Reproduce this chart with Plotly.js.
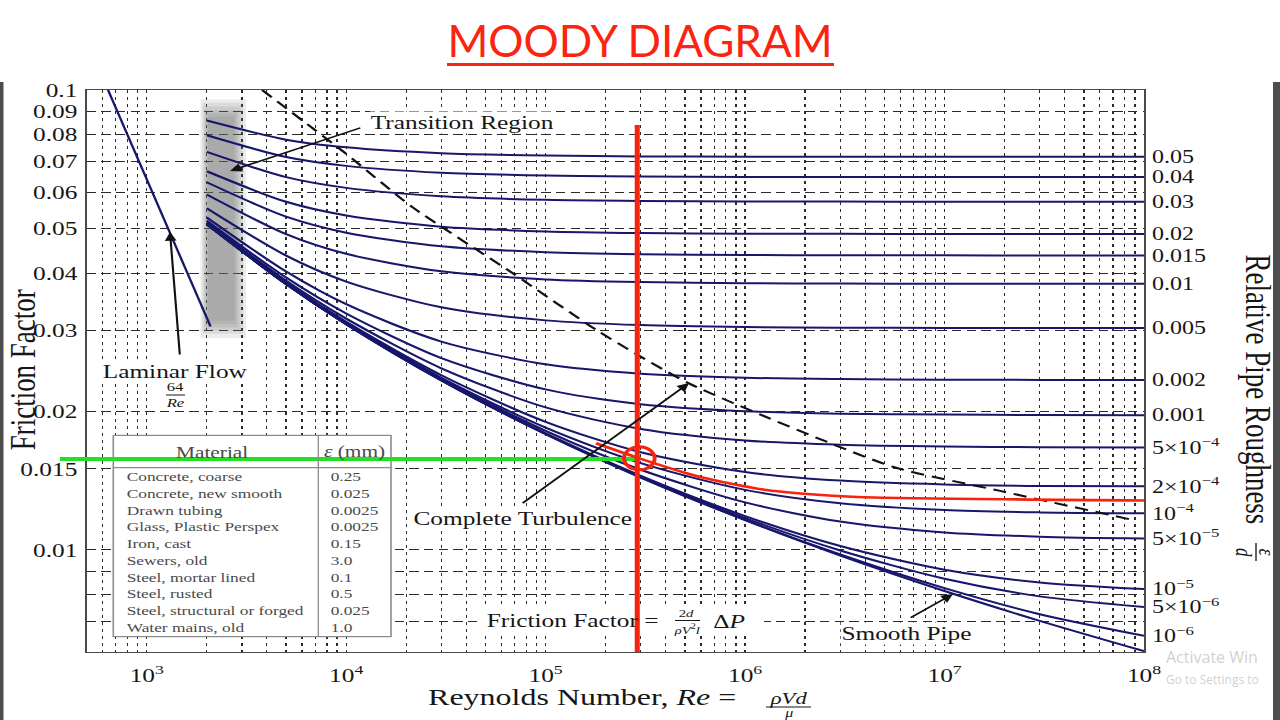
<!DOCTYPE html>
<html>
<head>
<meta charset="utf-8">
<script src="https://cdn.plot.ly/plotly-3.0.1.min.js"></script>
<style>
  html, body { margin: 0; padding: 0; background: #ffffff; width: 1280px; height: 720px; overflow: hidden; }
  #chart { position: absolute; left: 0; top: 0; width: 960px; height: 720px; transform: scaleX(1.3333333); transform-origin: 0 0; }
  #deco { position: absolute; left: 0; top: 0; width: 1280px; height: 720px; pointer-events: none; }
</style>
</head>
<body>
<div id="chart"></div>
<div id="deco"></div>
<script>
// ---------------- DATA ----------------
const reynolds = [2000, 5000, 1e4, 3e4, 1e5, 3e5, 1e6, 3e6, 1e7, 3e7, 1e8];

const roughnessLabels = ['0.05', '0.04', '0.03', '0.02', '0.015', '0.01', '0.005', '0.002', '0.001',
  '5×10<sup>−4</sup>', '2×10<sup>−4</sup>', '10<sup>−4</sup>', '5×10<sup>−5</sup>',
  '10<sup>−5</sup>', '5×10<sup>−6</sup>', '10<sup>−6</sup>'];

const f_0_05  = [0.08584, 0.07799, 0.07505, 0.07286, 0.07200, 0.07172, 0.07161, 0.07157, 0.07156, 0.07155, 0.07155];
const f_0_04  = [0.07972, 0.07152, 0.06840, 0.06608, 0.06515, 0.06485, 0.06473, 0.06470, 0.06468, 0.06467, 0.06467];
const f_0_03  = [0.07334, 0.06464, 0.06127, 0.05873, 0.05770, 0.05737, 0.05724, 0.05720, 0.05718, 0.05717, 0.05717];
const f_0_02  = [0.06658, 0.05714, 0.05336, 0.05045, 0.04926, 0.04887, 0.04872, 0.04867, 0.04865, 0.04864, 0.04864];
const f_0_015 = [0.06302, 0.05304, 0.04895, 0.04573, 0.04439, 0.04395, 0.04378, 0.04372, 0.04370, 0.04369, 0.04369];
const f_0_01  = [0.05928, 0.04860, 0.04404, 0.04034, 0.03875, 0.03823, 0.03801, 0.03795, 0.03792, 0.03791, 0.03791];
const f_0_005 = [0.05533, 0.04364, 0.03833, 0.03369, 0.03156, 0.03082, 0.03052, 0.03043, 0.03039, 0.03038, 0.03037];
const f_0_002 = [0.05283, 0.04030, 0.03422, 0.02838, 0.02533, 0.02417, 0.02368, 0.02352, 0.02345, 0.02343, 0.02342];
const f_0_001 = [0.05197, 0.03910, 0.03267, 0.02613, 0.02234, 0.02075, 0.02003, 0.01978, 0.01969, 0.01965, 0.01964];
const f_5e_4  = [0.05153, 0.03848, 0.03184, 0.02483, 0.02041, 0.01833, 0.01730, 0.01693, 0.01678, 0.01673, 0.01671];
const f_2e_4  = [0.05127, 0.03810, 0.03132, 0.02398, 0.01899, 0.01631, 0.01477, 0.01415, 0.01388, 0.01378, 0.01375];
const f_1e_4  = [0.05118, 0.03797, 0.03115, 0.02368, 0.01845, 0.01544, 0.01351, 0.01263, 0.01221, 0.01207, 0.01201];
const f_5e_5  = [0.05114, 0.03791, 0.03106, 0.02353, 0.01816, 0.01494, 0.01269, 0.01153, 0.01092, 0.01069, 0.01059];
const f_1e_5  = [0.05110, 0.03786, 0.03099, 0.02340, 0.01792, 0.01449, 0.01185, 0.01020, 0.009059, 0.008500, 0.008224];
const f_5e_6  = [0.05109, 0.03785, 0.03098, 0.02339, 0.01789, 0.01443, 0.01173, 0.009974, 0.008657, 0.007927, 0.007519];
const f_1e_6  = [0.05108, 0.03784, 0.03097, 0.02338, 0.01787, 0.01439, 0.01163, 0.009776, 0.008258, 0.007249, 0.006506];
const f_smooth = [0.05108, 0.03784, 0.03097, 0.02337, 0.01786, 0.01437, 0.01161, 0.009724, 0.008142, 0.007013, 0.006026];

const labelledCurves = [f_0_05, f_0_04, f_0_03, f_0_02, f_0_015, f_0_01, f_0_005, f_0_002, f_0_001,
  f_5e_4, f_2e_4, f_1e_4, f_5e_5, f_1e_5, f_5e_6, f_1e_6];

// laminar flow, f = 64/Re
const reLaminar = [625, 2090];
const fLaminar = [0.1024, 0.0306];

// complete-turbulence boundary (dashed)
const reBoundary = [3790, 9940, 21400, 68200, 185800, 526000, 5.5e6, 1.9e7, 8.8e7];
const fBoundary  = [0.1, 0.0728, 0.0557, 0.0400, 0.0298, 0.0230, 0.01517, 0.01344, 0.01162];

// red highlighted roughness curve
const reHighlight = [1.79e5, 2.95e5, 5.9e5, 1.28e6, 2.75e6, 4.46e6, 1e8];
const fHighlight  = [0.01706, 0.01582, 0.01443, 0.01350, 0.01312, 0.01300, 0.01281];

// worked example: Re read-off (red vertical), friction factor (green horizontal), intersection (circle)
const reVertical = [2.88e5, 2.88e5];
const fVertical  = [0.0839, 0.006];
const reHorizontal = [500, 2.88e5];
const fHorizontal  = [0.01577, 0.01577];
const rePoint = [2.95e5];
const fPoint  = [0.01582];

// transition region shading, outer -> inner bands (soft edge)
const shadeReLeft  = [1860, 1900, 1935, 1965, 1995, 2025];
const shadeReRight = [3150, 3050, 2960, 2880, 2810, 2750];
const shadeFTop    = [0.0955, 0.0938, 0.0921, 0.0905, 0.0890, 0.0876];
const shadeFBottom = [0.0289, 0.0295, 0.0300, 0.0305, 0.0310, 0.0315];

// material table
const materials = ['Concrete, coarse', 'Concrete, new smooth', 'Drawn tubing', 'Glass, Plastic Perspex',
  'Iron, cast', 'Sewers, old', 'Steel, mortar lined', 'Steel, rusted', 'Steel, structural or forged', 'Water mains, old'];
const roughnessMm = ['0.25', '0.025', '0.0025', '0.0025', '0.15', '3.0', '0.1', '0.5', '0.025', '1.0'];

// axes ticks / grid
const xMajorVals = [1e3, 1e4, 1e5, 1e6, 1e7, 1e8];
const xMajorText = ['10<sup>3</sup>', '10<sup>4</sup>', '10<sup>5</sup>', '10<sup>6</sup>', '10<sup>7</sup>', '10<sup>8</sup>'];
const xMinorVals = [600, 700, 800, 900, 2e3, 3e3, 4e3, 5e3, 6e3, 7e3, 8e3, 9e3,
  2e4, 3e4, 4e4, 5e4, 6e4, 7e4, 8e4, 9e4, 2e5, 3e5, 4e5, 5e5, 6e5, 7e5, 8e5, 9e5,
  2e6, 3e6, 4e6, 5e6, 6e6, 7e6, 8e6, 9e6, 2e7, 3e7, 4e7, 5e7, 6e7, 7e7, 8e7, 9e7];
const yMajorVals = [0.01, 0.015, 0.02, 0.03, 0.04, 0.05, 0.06, 0.07, 0.08, 0.09, 0.1];
const yMajorText = ['0.01', '0.015', '0.02', '0.03', '0.04', '0.05', '0.06', '0.07', '0.08', '0.09', '0.1'];
const yMinorVals = [0.007, 0.008, 0.009];

// ---------------- GEOMETRY / STYLE ----------------
const S = 4 / 3;            // the reference picture is horizontally stretched 4:3 -> 16:9
const W = 960, H = 720, ML = 65, MR = 102, MT = 90, MB = 68;
const PW = W - ML - MR, PH = H - MT - MB;
const X0 = Math.log10(500), X1 = 8, Y0 = Math.log10(0.006), Y1 = -1;
const px = sx => (sx / S - ML) / PW;     // screen x -> paper
const py = sy => (H - MB - sy) / PH;     // screen y -> paper
const reAt = sx => Math.pow(10, X0 + px(sx) * (X1 - X0));   // screen x -> axis value (for layout boxes)
const fAt = sy => Math.pow(10, Y0 + py(sy) * (Y1 - Y0));
const SERIF = 'Liberation Serif, Times New Roman, serif';
const NAVY = '#17176c';
const RED = '#f8230f';
const GREEN = '#22e022';
const TXT = '#161616';
const GRID = '#2a2a2a';

function boxTrace(x0, x1, y0, y1, fill, lineColor, lineWidth) {
  return {x: [x0, x1, x1, x0, x0], y: [y0, y0, y1, y1, y0], mode: 'lines', fill: 'toself',
    fillcolor: fill, line: {color: lineColor || 'rgba(0,0,0,0)', width: lineWidth || 0},
    hoverinfo: 'skip', showlegend: false};
}

const traces = [];
// table background & frame (hides the grid like the reference)
traces.push(boxTrace(reAt(113.3), reAt(391), fAt(435.3), fAt(636.7), '#ffffff', '#8c8c8c', 1.2));
// white band behind the in-plot friction factor formula
traces.push(boxTrace(reAt(481), reAt(764), fAt(608), fAt(633), '#ffffff'));
// transition shading
shadeReLeft.forEach((r, i) => {
  traces.push(boxTrace(r, shadeReRight[i], shadeFTop[i], shadeFBottom[i], 'rgba(105,105,105,0.13)'));
});
labelledCurves.concat([f_smooth]).forEach(curve => {
  traces.push({x: reynolds, y: curve, mode: 'lines',
    line: {color: NAVY, width: 2, shape: 'spline', smoothing: 0.8}, hoverinfo: 'skip', showlegend: false});
});
traces.push({x: reLaminar, y: fLaminar, mode: 'lines', line: {color: NAVY, width: 1.8}, showlegend: false});
traces.push({x: reBoundary, y: fBoundary, mode: 'lines',
  line: {color: '#111111', width: 2, dash: '10px,6px', shape: 'spline', smoothing: 0.6}, showlegend: false});
traces.push({x: reHorizontal, y: fHorizontal, mode: 'lines', line: {color: GREEN, width: 4}, showlegend: false});
traces.push({x: reHighlight, y: fHighlight, mode: 'lines',
  line: {color: RED, width: 2.6, shape: 'spline', smoothing: 0.7}, showlegend: false});
traces.push({x: reVertical, y: fVertical, mode: 'lines', line: {color: RED, width: 3.8}, showlegend: false});
traces.push({x: rePoint, y: fPoint, mode: 'markers',
  marker: {symbol: 'circle-open', size: 23, color: RED, line: {width: 3, color: RED}}, showlegend: false});
// right-hand axis carries the roughness labels at the curve ends
const curveEnds = labelledCurves.map(c => c[c.length - 1]);
traces.push({x: curveEnds.map(() => reynolds[reynolds.length - 1]), y: curveEnds, yaxis: 'y2',
  mode: 'markers', marker: {size: 1, opacity: 0}, hoverinfo: 'skip', showlegend: false});

// ---------------- ANNOTATIONS ----------------
const annotations = [];
function text(sx, sy, t, size, extra) {
  annotations.push(Object.assign({xref: 'paper', yref: 'paper', x: px(sx), y: py(sy), text: t,
    showarrow: false, xanchor: 'center', yanchor: 'middle',
    font: {family: SERIF, size: size, color: TXT}}, extra || {}));
}
function arrow(hx, hy, tx, ty) {
  annotations.push({xref: 'paper', yref: 'paper', x: px(hx), y: py(hy), text: ' ',
    showarrow: true, ax: (tx - hx) / S, ay: ty - hy, arrowhead: 2, arrowsize: 1.1, arrowwidth: 1.6,
    arrowcolor: '#111111', standoff: 0, startstandoff: 0, font: {size: 2}});
}
text(463, 123, 'Transition Region', 19, {bgcolor: '#ffffff', borderpad: 0});
arrow(230, 171, 363, 127);
text(174, 371, 'Laminar Flow', 19, {bgcolor: '#ffffff', borderpad: 0});
text(175, 386.5, '64', 12.5);
text(175, 403, '<i>Re</i>', 12.5);
arrow(170, 232, 180, 357);
text(522, 518, 'Complete Turbulence', 19, {bgcolor: '#ffffff', borderpad: 0});
arrow(689, 383, 520, 505);
text(907, 633, 'Smooth Pipe', 19, {bgcolor: '#ffffff', borderpad: 0});
arrow(953, 594, 908, 619);
text(572, 620, 'Friction Factor =', 19);
text(687, 613, '2<i>d</i>', 11);
text(687, 628.5, '<i>ρV</i><sup>2</sup><i>l</i>', 11);
text(729, 621, 'Δ<i>P</i>', 19);
// table
const tableFont = {family: SERIF, size: 13, color: '#4a4a4a'};
text(212, 452, 'Material', 16, {font: {family: SERIF, size: 16, color: '#4a4a4a'}});
text(354, 452, '<i>ε</i> (mm)', 16, {font: {family: SERIF, size: 16, color: '#4a4a4a'}});
materials.forEach((m, i) => {
  const sy = 476.7 + i * 16.73;
  text(124, sy, m, 13, {xanchor: 'left', font: tableFont});
  text(327.7, sy, roughnessMm[i], 13, {xanchor: 'left', font: tableFont});
});
// axis titles
text(582, 697, 'Reynolds Number, <i>Re</i> =', 24);
text(788, 698, '<i>ρVd</i>', 17);
text(788, 713, '<i>μ</i>', 12);
text(0.5, 370, 'Friction Factor', 27, {textangle: -90, xanchor: 'left'});
text(1258, 389, 'Relative Pipe Roughness', 27, {textangle: 90});
text(1267, 552, '<i>ε</i>', 17, {textangle: 90});
text(1244, 552, '<i>d</i>', 17, {textangle: 90});

// ---------------- SHAPES ----------------
const shapes = [
  {type: 'line', xref: 'paper', yref: 'paper', x0: px(113.3), x1: px(391), y0: py(467.7), y1: py(467.7),
    line: {color: '#8c8c8c', width: 1.2}, layer: 'above'},
  {type: 'line', xref: 'paper', yref: 'paper', x0: px(318.3), x1: px(318.3), y0: py(435.3), y1: py(636.7),
    line: {color: '#8c8c8c', width: 1}, layer: 'above'},
  {type: 'line', xref: 'paper', yref: 'paper', x0: px(60), x1: px(88), y0: py(459), y1: py(459),
    line: {color: GREEN, width: 4}, layer: 'above'},
  {type: 'line', xref: 'paper', yref: 'paper', x0: px(166), x1: px(185), y0: py(395), y1: py(395),
    line: {color: TXT, width: 1}, layer: 'above'},
  {type: 'line', xref: 'paper', yref: 'paper', x0: px(675), x1: px(700), y0: py(620.5), y1: py(620.5),
    line: {color: TXT, width: 1}, layer: 'above'},
  {type: 'line', xref: 'paper', yref: 'paper', x0: px(766), x1: px(811), y0: py(707), y1: py(707),
    line: {color: TXT, width: 1.2}, layer: 'above'},
  {type: 'line', xref: 'paper', yref: 'paper', x0: px(1256), x1: px(1256), y0: py(543), y1: py(561),
    line: {color: TXT, width: 1}, layer: 'above'}
];

const layout = {
  width: W, height: H,
  margin: {l: ML, r: MR, t: MT, b: MB, pad: 0},
  paper_bgcolor: '#ffffff', plot_bgcolor: '#ffffff',
  showlegend: false,
  font: {family: SERIF, color: TXT},
  xaxis: {
    type: 'log', range: [X0, X1], tickmode: 'array', tickvals: xMajorVals, ticktext: xMajorText,
    showgrid: true, gridcolor: GRID, gridwidth: 1, griddash: '3px,4px',
    minor: {tickmode: 'array', tickvals: xMinorVals, showgrid: true, gridcolor: GRID, gridwidth: 1, griddash: '3px,4px', ticks: ''},
    showline: true, mirror: true, linecolor: '#4a4a4a', linewidth: 1.2,
    ticks: '', zeroline: false, ticklabelstandoff: 6,
    tickfont: {family: SERIF, size: 19, color: TXT}
  },
  yaxis: {
    type: 'log', range: [Y0, Y1], tickmode: 'array', tickvals: yMajorVals, ticktext: yMajorText,
    showgrid: true, gridcolor: GRID, gridwidth: 1, griddash: '7px,4px',
    minor: {tickmode: 'array', tickvals: yMinorVals, showgrid: true, gridcolor: GRID, gridwidth: 1, griddash: '7px,4px', ticks: ''},
    showline: true, mirror: true, linecolor: '#4a4a4a', linewidth: 1.2,
    ticks: '', zeroline: false, ticklabelstandoff: 2,
    tickfont: {family: SERIF, size: 19, color: TXT}
  },
  yaxis2: {
    type: 'log', overlaying: 'y', side: 'right', range: [Y0, Y1],
    tickmode: 'array', tickvals: curveEnds, ticktext: roughnessLabels,
    showgrid: false, showline: false, zeroline: false, ticks: '', ticklabelstandoff: 5,
    tickfont: {family: SERIF, size: 18, color: TXT}
  },
  annotations: annotations,
  shapes: shapes
};

// ---------------- page decoration (unstretched): heading, frame edges, watermark ----------------
const decoLayout = {
  width: 1280, height: 720, margin: {l: 0, r: 0, t: 0, b: 0},
  paper_bgcolor: 'rgba(0,0,0,0)', plot_bgcolor: 'rgba(0,0,0,0)', showlegend: false,
  xaxis: {visible: false, range: [0, 1280], fixedrange: true},
  yaxis: {visible: false, range: [720, 0], fixedrange: true},
  title: {text: 'MOODY DIAGRAM', font: {family: 'Lato, Open Sans, sans-serif', size: 44, color: '#fa2410'},
    xref: 'container', yref: 'container', x: 640 / 1280, xanchor: 'center', y: 1 - 42 / 720, yanchor: 'middle'},
  shapes: [
    {type: 'line', xref: 'x', yref: 'y', x0: 447, x1: 834, y0: 64.5, y1: 64.5, line: {color: '#fa2410', width: 3}},
    {type: 'rect', xref: 'x', yref: 'y', x0: 0, x1: 3.5, y0: 82, y1: 720, fillcolor: '#4d4d4d', line: {width: 0}},
    {type: 'rect', xref: 'x', yref: 'y', x0: 1273, x1: 1280, y0: 82, y1: 720, fillcolor: '#4d4d4d', line: {width: 0}}
  ],
  annotations: [
    {xref: 'x', yref: 'y', x: 1164, y: 657, text: 'Activate Win', showarrow: false, xanchor: 'left', yanchor: 'middle',
      font: {family: 'Open Sans, sans-serif', size: 16, color: 'rgba(160,160,160,0.5)'}},
    {xref: 'x', yref: 'y', x: 1164, y: 679, text: 'Go to Settings to', showarrow: false, xanchor: 'left', yanchor: 'middle',
      font: {family: 'Open Sans, sans-serif', size: 12, color: 'rgba(160,160,160,0.5)'}}
  ]
};

Plotly.newPlot('chart', traces, layout, {staticPlot: true, displayModeBar: false})
  .then(() => Plotly.newPlot('deco', [], decoLayout, {staticPlot: true, displayModeBar: false}));
</script>
</body>
</html>
